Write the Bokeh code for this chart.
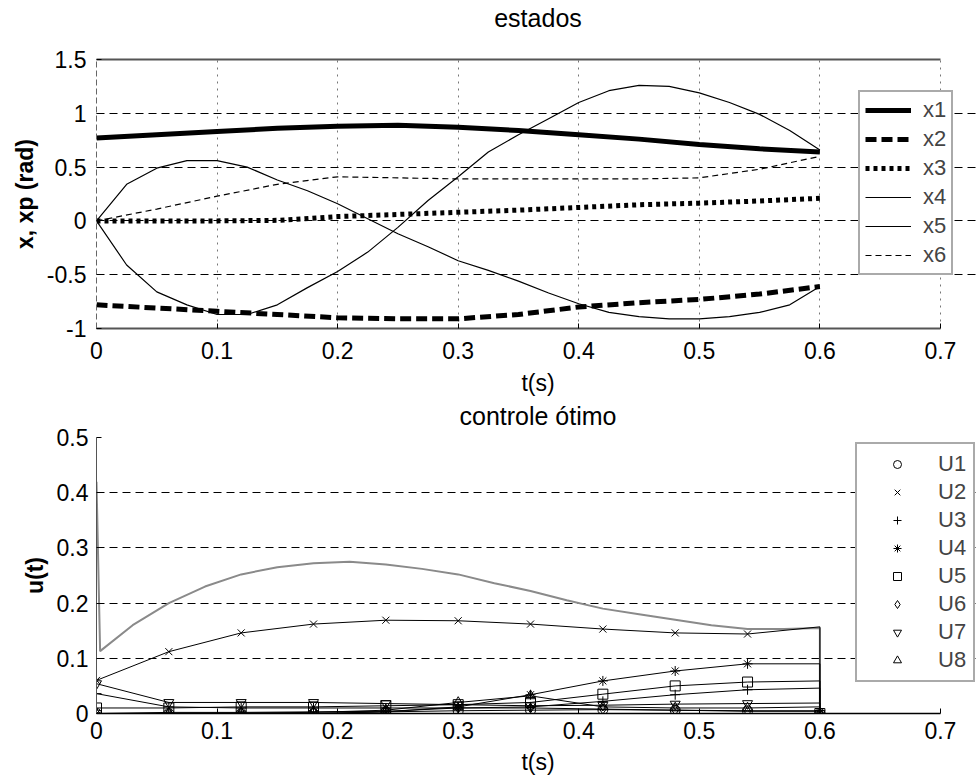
from bokeh.plotting import figure
from bokeh.layouts import column
from bokeh.models import Legend, LegendItem, FixedTicker, Range1d, LinearAxis
from bokeh.embed import file_html
from bokeh.resources import INLINE

FONT = "Liberation Sans"

# ---------------- data: estados ----------------
t_a = [0.0, 0.05, 0.1, 0.15, 0.2, 0.25, 0.3, 0.35, 0.4, 0.45, 0.5, 0.55, 0.6]
x1 = [0.77, 0.80, 0.83, 0.86, 0.88, 0.89, 0.87, 0.84, 0.80, 0.76, 0.71, 0.67, 0.64]
x2 = [-0.78, -0.81, -0.84, -0.87, -0.90, -0.91, -0.91, -0.87, -0.80, -0.76, -0.73, -0.68, -0.61]
x3 = [0.0, 0.0, 0.0, 0.005, 0.04, 0.06, 0.08, 0.10, 0.125, 0.15, 0.165, 0.185, 0.21]
x6 = [0.0, 0.11, 0.23, 0.34, 0.41, 0.40, 0.39, 0.39, 0.39, 0.39, 0.40, 0.48, 0.60]

t_b = [0.0, 0.025, 0.05, 0.075, 0.1, 0.125, 0.15, 0.175, 0.2, 0.225, 0.25, 0.275,
       0.3, 0.325, 0.35, 0.375, 0.4, 0.425, 0.45, 0.475, 0.5, 0.525, 0.55, 0.575, 0.6]
x4 = [0.0, 0.34, 0.49, 0.56, 0.56, 0.50, 0.38, 0.28, 0.16, 0.02, -0.12, -0.24,
      -0.37, -0.46, -0.56, -0.67, -0.77, -0.85, -0.89, -0.91, -0.91, -0.89, -0.85, -0.78, -0.61]
x5 = [0.0, -0.41, -0.66, -0.78, -0.87, -0.87, -0.78, -0.62, -0.47, -0.29, -0.06, 0.19,
      0.41, 0.64, 0.80, 0.95, 1.10, 1.21, 1.26, 1.25, 1.19, 1.10, 0.99, 0.84, 0.66]

state_labels = ["x1", "x2", "x3", "x4", "x5", "x6"]

# ---------------- data: controle otimo ----------------
t_u = [0.0, 0.06, 0.12, 0.18, 0.24, 0.30, 0.36, 0.42, 0.48, 0.54, 0.60]
u1 = [0.0, 0.0, 0.0, 0.0, 0.003, 0.005, 0.006, 0.007, 0.006, 0.005, 0.0]
u2 = [0.06, 0.112, 0.146, 0.162, 0.169, 0.168, 0.162, 0.153, 0.146, 0.144, 0.0]
u3 = [0.036, 0.012, 0.010, 0.010, 0.010, 0.010, 0.012, 0.022, 0.034, 0.043, 0.0]
u4 = [0.0, 0.0, 0.0, 0.0, 0.003, 0.012, 0.034, 0.059, 0.077, 0.090, 0.0]
u5 = [0.010, 0.010, 0.012, 0.012, 0.014, 0.016, 0.020, 0.035, 0.050, 0.057, 0.0]
u6 = [0.0, 0.002, 0.002, 0.003, 0.004, 0.010, 0.010, 0.008, 0.006, 0.004, 0.0]
u7 = [0.054, 0.020, 0.020, 0.020, 0.018, 0.016, 0.014, 0.015, 0.017, 0.018, 0.0]
u8 = [0.0, 0.0, 0.001, 0.002, 0.006, 0.020, 0.032, 0.012, 0.010, 0.010, 0.0]
u_hold = [0.005, 0.157, 0.046, 0.090, 0.059, 0.004, 0.019, 0.012]
u_labels = ["U1", "U2", "U3", "U4", "U5", "U6", "U7", "U8"]
u_markers = ["circle", "x", "cross", "asterisk", "square", "diamond", "inverted_triangle", "triangle"]

t_g = [0.0, 0.003, 0.03, 0.06, 0.09, 0.12, 0.15, 0.18, 0.21, 0.24, 0.27, 0.30, 0.33,
       0.36, 0.39, 0.42, 0.45, 0.48, 0.51, 0.54, 0.57, 0.6, 0.6]
u_g = [0.42, 0.113, 0.16, 0.20, 0.23, 0.252, 0.265, 0.272, 0.275, 0.27, 0.262, 0.252, 0.236,
       0.222, 0.205, 0.19, 0.18, 0.17, 0.16, 0.153, 0.153, 0.155, 0.0]

x_ticks = [0, 0.1, 0.2, 0.3, 0.4, 0.5, 0.6, 0.7]
x_tick_labels = ["0", "0.1", "0.2", "0.3", "0.4", "0.5", "0.6", "0.7"]
y1_ticks = [-1, -0.5, 0, 0.5, 1, 1.5]
y1_tick_labels = ["-1", "-0.5", "0", "0.5", "1", "1.5"]
y2_ticks = [0, 0.1, 0.2, 0.3, 0.4, 0.5]
y2_tick_labels = ["0", "0.1", "0.2", "0.3", "0.4", "0.5"]

W = 979
LEFT = 96
X_END = 0.7324   # frame reaches the window edge; axis lines stop at 0.7


def style_axes(p, yt, ytl, ylab):
    p.xaxis.ticker = FixedTicker(ticks=x_ticks)
    p.xaxis.major_label_overrides = dict(zip(x_ticks, x_tick_labels))
    p.xaxis.bounds = (0, 0.7)
    p.yaxis.ticker = FixedTicker(ticks=yt)
    p.yaxis.major_label_overrides = dict(zip(yt, ytl))
    for ax in (p.xaxis, p.yaxis):
        ax.major_label_text_font = FONT
        ax.major_label_text_font_size = "23px"
        ax.major_label_text_color = "black"
        ax.major_tick_in = 5
        ax.major_tick_out = 0
        ax.minor_tick_in = 0
        ax.minor_tick_out = 0
        ax.axis_label_text_font = FONT
        ax.axis_label_text_font_size = "23px"
        ax.axis_label_text_color = "black"
    p.xaxis.axis_label = "t(s)"
    p.xaxis.axis_label_text_font_style = "normal"
    p.yaxis.axis_label = ylab
    p.yaxis.axis_label_text_font_style = "bold"


def title_axis(text, standoff, line_color):
    # an upper axis without ticks that carries the title text
    return LinearAxis(ticker=FixedTicker(ticks=[]), axis_line_color=line_color,
                      axis_line_width=2, major_label_text_font_size="0px",
                      major_tick_in=0, major_tick_out=0, minor_tick_in=0, minor_tick_out=0,
                      bounds=(0, 0.7), major_label_standoff=0,
                      axis_label=text, axis_label_standoff=standoff,
                      axis_label_text_font=FONT, axis_label_text_font_size="25px",
                      axis_label_text_font_style="normal", axis_label_text_color="black")


# ---------------- top figure ----------------
p1 = figure(width=W, height=398, output_backend="svg", toolbar_location=None,
            x_range=Range1d(0, X_END), y_range=Range1d(-1, 1.5),
            min_border_left=LEFT, min_border_right=0, min_border_top=57,
            min_border_bottom=0)
style_axes(p1, y1_ticks, y1_tick_labels, "x, xp (rad)")
p1.xaxis.major_label_standoff = 13
p1.xaxis.axis_label_standoff = 8
p1.yaxis.major_label_standoff = 10
p1.yaxis.axis_label_standoff = 6
p1.outline_line_color = None
p1.xaxis.axis_line_color = "#555555"
p1.xaxis.axis_line_width = 2
p1.yaxis.axis_line_color = "#666666"
p1.yaxis.axis_line_dash = "6 3"
p1.add_layout(title_axis("estados", 28, "#555555"), "above")
p1.ygrid.grid_line_color = "black"
p1.ygrid.grid_line_dash = "8 5"
p1.ygrid.grid_line_width = 1
p1.xgrid.grid_line_color = "#777777"
p1.xgrid.grid_line_dash = "2 5"
p1.xgrid.grid_line_width = 1

r1 = p1.line(t_a, x1, line_color="black", line_width=5)
r2 = p1.line(t_a, x2, line_color="black", line_width=5, line_dash="11 5")
r3 = p1.line(t_a, x3, line_color="black", line_width=5, line_dash="4 4")
r4 = p1.line(t_b, x4, line_color="black", line_width=1.2)
r5 = p1.line(t_b, x5, line_color="black", line_width=1.2)
r6 = p1.line(t_a, x6, line_color="black", line_width=1.2, line_dash="6 4")

leg1 = Legend(items=[LegendItem(label=l, renderers=[r]) for l, r in
                     zip(state_labels, [r1, r2, r3, r4, r5, r6])],
              location=(762, 53))
leg1.label_text_font = FONT
leg1.label_text_font_size = "22px"
leg1.glyph_width = 46
leg1.glyph_height = 20
leg1.label_standoff = 12
leg1.label_height = 24
leg1.spacing = 3
leg1.padding = 5
leg1.border_line_color = "#555555"
leg1.border_line_width = 2
leg1.background_fill_alpha = 1
p1.add_layout(leg1, "center")

# ---------------- bottom figure ----------------
p2 = figure(width=W, height=379, output_backend="svg", toolbar_location=None,
            x_range=Range1d(0, X_END), y_range=Range1d(0, 0.5),
            min_border_left=LEFT, min_border_right=0, min_border_top=39,
            min_border_bottom=0)
style_axes(p2, y2_ticks, y2_tick_labels, "u(t)")
p2.xaxis.major_label_standoff = 8
p2.xaxis.axis_label_standoff = 7
p2.yaxis.major_label_standoff = 8
p2.yaxis.axis_label_standoff = 6
p2.outline_line_color = None
p2.xaxis.axis_line_color = "black"
p2.xaxis.axis_line_width = 1.5
p2.yaxis.axis_line_color = "#555555"
p2.add_layout(title_axis("controle ótimo", 8, None), "above")
p2.ygrid.grid_line_color = "black"
p2.ygrid.grid_line_dash = "8 5"
p2.ygrid.grid_line_width = 1
p2.xgrid.grid_line_color = None

p2.line(t_g, u_g, line_color="#8a8a8a", line_width=2)

u_series = [u1, u2, u3, u4, u5, u6, u7, u8]
items2 = []
for lab, mk, u, hold in zip(u_labels, u_markers, u_series, u_hold):
    xs = t_u[:-1] + [t_u[-1], t_u[-1]]
    ys = u[:-1] + [hold, u[-1]]
    p2.line(xs, ys, line_color="black", line_width=1)
    rs = p2.scatter(t_u, u, marker=mk, size=10, line_color="black", fill_color=None,
                    line_width=1)
    items2.append(LegendItem(label=lab, renderers=[rs]))

leg2 = Legend(items=items2, location=(759, 31))
leg2.label_text_font = FONT
leg2.label_text_font_size = "22px"
leg2.glyph_width = 66
leg2.glyph_height = 20
leg2.label_standoff = 8
leg2.label_height = 25
leg2.spacing = 2
leg2.padding = 7
leg2.border_line_color = "#555555"
leg2.border_line_width = 2
leg2.background_fill_alpha = 1
p2.add_layout(leg2, "center")

layout = column(p1, p2, spacing=0)
open("out.html", "w").write(file_html(layout, INLINE))
